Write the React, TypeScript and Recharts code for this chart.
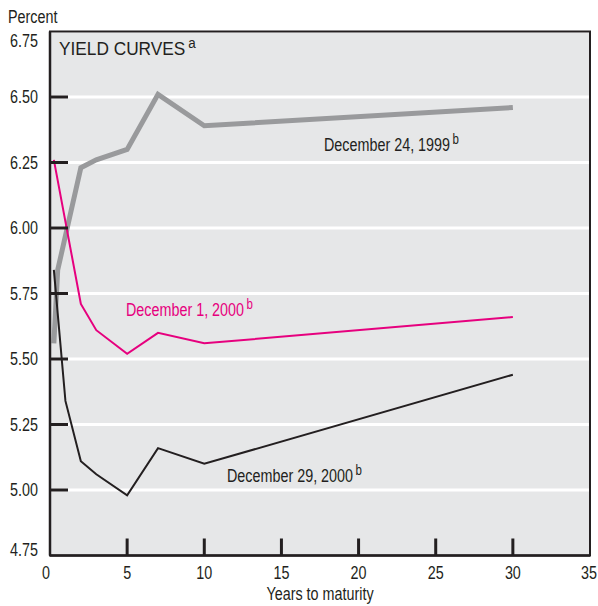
import React from "react";
import { LineChart, Line, XAxis, YAxis, CartesianGrid } from "recharts";

if (typeof document !== "undefined") document.body.style.margin = "0";

const FONT = "'Liberation Sans', Arial, sans-serif";
const INK = "#231f20";
const PINK = "#e6007e";
const NARROW = 0.82; // horizontal squeeze to mimic a condensed face

// Treasury yield curves, percent, by years to maturity
const dec1999Maturity = [0.25, 0.5, 2, 3, 5, 7, 10, 30];
const dec1999Yield = [5.56, 5.84, 6.23, 6.26, 6.3, 6.51, 6.39, 6.46];

const dec2000aMaturity = [0.25, 2, 3, 5, 7, 10, 30];
const dec2000aYield = [6.26, 5.71, 5.61, 5.52, 5.6, 5.56, 5.66];

const dec2000bMaturity = [0.25, 1, 2, 3, 5, 7, 10, 30];
const dec2000bYield = [5.84, 5.34, 5.11, 5.06, 4.98, 5.16, 5.1, 5.44];

const xTicks = [0, 5, 10, 15, 20, 25, 30, 35];
const yTicks = [4.75, 5.0, 5.25, 5.5, 5.75, 6.0, 6.25, 6.5, 6.75];

const toRows = (m: number[], v: number[]) => m.map((x, i) => ({ m: x, v: v[i] }));

const dec1999 = toRows(dec1999Maturity, dec1999Yield);
const dec2000a = toRows(dec2000aMaturity, dec2000aYield);
const dec2000b = toRows(dec2000bMaturity, dec2000bYield);

const PLOT_LEFT = 50;
const PLOT_TOP = 31.5;
const PLOT_W = 540;
const PLOT_H = 524;
const PLOT_BOTTOM = PLOT_TOP + PLOT_H;

function NText({ x, y, anchor = "start", size = 17.5, fill = INK, squeeze = NARROW, children }: any) {
  return (
    <g transform={`translate(${x},${y}) scale(${squeeze},1)`}>
      <text x={0} y={0} textAnchor={anchor} fontFamily={FONT} fontSize={size} fill={fill}>
        {children}
      </text>
    </g>
  );
}

function YTick(props: any) {
  const { y, payload } = props;
  const v = payload.value;
  const first = v === yTicks[0];
  const last = v === yTicks[yTicks.length - 1];
  const dy = last ? 15.5 : first ? 0.5 : 6;
  return (
    <g>
      {!first && !last && (
        <line x1={PLOT_LEFT} x2={PLOT_LEFT + 18} y1={y} y2={y} stroke={INK} strokeWidth={3} />
      )}
      <NText x={38} y={y + dy} anchor="end">{v.toFixed(2)}</NText>
    </g>
  );
}

function XTick(props: any) {
  const { x, payload } = props;
  const v = payload.value;
  const inner = v !== 0 && v !== 35;
  return (
    <g>
      {inner && (
        <line x1={x} x2={x} y1={PLOT_BOTTOM} y2={PLOT_BOTTOM - 17} stroke={INK} strokeWidth={3} />
      )}
      <NText x={v === 0 ? x - 4 : v === 35 ? x - 1 : x} y={579} anchor="middle">{v}</NText>
    </g>
  );
}

export default function App() {
  return (
    <div style={{ position: "relative", width: 598, height: 606, background: "#fff" }}>
      <LineChart
        width={598}
        height={606}
        margin={{ top: PLOT_TOP, right: 8, left: 0, bottom: 0 }}
      >
        <CartesianGrid
          vertical={false}
          horizontal
          stroke="#ffffff"
          strokeWidth={3}
          fill="#e6e7e8"
          fillOpacity={1}
        />
        <XAxis
          dataKey="m"
          type="number"
          domain={[0, 35]}
          ticks={xTicks}
          height={606 - PLOT_BOTTOM}
          tickLine={false}
          axisLine={{ stroke: INK, strokeWidth: 2.5 }}
          tick={<XTick />}
          interval={0}
          allowDuplicatedCategory={false}
        />
        <YAxis
          dataKey="v"
          type="number"
          domain={[4.75, 6.75]}
          ticks={yTicks}
          width={PLOT_LEFT}
          tickLine={false}
          axisLine={{ stroke: INK, strokeWidth: 2.5 }}
          tick={<YTick />}
          interval={0}
        />
        <Line
          data={dec1999}
          dataKey="v"
          stroke="#999a9c"
          strokeWidth={5}
          dot={false}
          isAnimationActive={false}
        />
        <Line
          data={dec2000a}
          dataKey="v"
          stroke={PINK}
          strokeWidth={2}
          dot={false}
          isAnimationActive={false}
        />
        <Line
          data={dec2000b}
          dataKey="v"
          stroke={INK}
          strokeWidth={2}
          dot={false}
          isAnimationActive={false}
        />
      </LineChart>
      <svg
        width={598}
        height={606}
        style={{ position: "absolute", left: 0, top: 0, pointerEvents: "none" }}
      >
        <rect
          x={PLOT_LEFT}
          y={PLOT_TOP}
          width={PLOT_W}
          height={PLOT_H}
          fill="none"
          stroke={INK}
          strokeWidth={2}
        />
        <NText x={8} y={22.5}>Percent</NText>
        <NText x={320} y={600} anchor="middle">Years to maturity</NText>
        <NText x={59} y={54.5} size={18} squeeze={0.96}>
          YIELD CURVES<tspan dx={3} dy={-7} fontSize={14}>a</tspan>
        </NText>
        <NText x={324} y={151}>
          December 24, 1999<tspan dx={3} dy={-7} fontSize={14}>b</tspan>
        </NText>
        <NText x={126} y={316} fill={PINK}>
          December 1, 2000<tspan dx={3} dy={-7} fontSize={14}>b</tspan>
        </NText>
        <NText x={227} y={482}>
          December 29, 2000<tspan dx={3} dy={-7} fontSize={14}>b</tspan>
        </NText>
      </svg>
    </div>
  );
}
